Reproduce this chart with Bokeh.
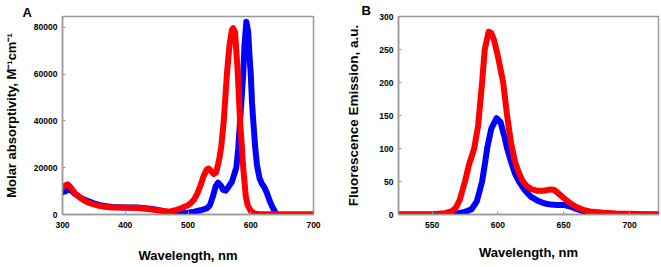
from bokeh.plotting import figure
from bokeh.layouts import row
from bokeh.models import FixedTicker, Range1d
from bokeh.embed import file_html
from bokeh.resources import INLINE

# Panel A: absorption spectra
abs_blue_wl = [300, 305, 310, 315, 320, 330, 340, 350, 360, 370, 380, 400, 420, 440, 450, 460,
               470, 480, 490, 500, 510, 520, 525, 530, 535, 540, 544, 548, 552, 556, 560, 565,
               570, 574, 577, 580, 583, 586, 588, 590, 593, 596, 598, 600, 602, 604, 607, 610,
               614, 618, 622, 626, 630, 634, 638, 640]
abs_blue = [9500, 10000, 10800, 10000, 8800, 7000, 5800, 4800, 4000, 3500, 3200, 3000, 3000, 2500, 2000, 1500,
            900, 700, 600, 800, 1200, 1800, 2200, 2600, 4000, 8000, 12000, 13600, 12500, 10500, 10200, 12000,
            14000, 17500, 20000, 28000, 40000, 52000, 60000, 72000, 82400, 78000, 68000, 60000, 48000, 40000, 29000, 21000,
            15500, 13000, 11500, 9000, 6000, 3500, 1500, 500]

abs_red_wl = [300, 305, 308, 312, 316, 320, 330, 340, 350, 360, 370, 380, 400, 420, 440, 460,
              470, 480, 490, 500, 505, 510, 515, 520, 525, 530, 533, 537, 541, 545, 550, 553,
              557, 562, 566, 570, 572, 575, 579, 583, 588, 592, 595, 600, 605, 610, 615, 620,
              650, 700]
abs_red = [11500, 12500, 12900, 12000, 10500, 9000, 6800, 5200, 4300, 3600, 3200, 3000, 3000, 2800, 2200, 1500,
           1200, 1800, 2800, 4000, 5000, 6500, 9000, 12500, 16500, 19300, 19600, 18500, 17300, 18000, 24000, 29000,
           40000, 60000, 72000, 79000, 79600, 78000, 62000, 40000, 20000, 8000, 4000, 1500, 600, 200, 100, 100,
           100, 100]

abs_xticks = [300, 400, 500, 600, 700]
abs_yticks = [0, 20000, 40000, 60000, 80000]

# Panel B: fluorescence emission spectra
em_blue_wl = [525, 550, 560, 565, 570, 575, 580, 584, 586, 588, 590, 592, 595, 599, 602, 605,
              607, 610, 613, 616, 620, 625, 630, 635, 640, 645, 650, 655, 660, 665, 670, 680,
              690, 700, 710, 722]
em_blue = [0, 0, 0.5, 1, 2, 4, 8, 20, 35, 50, 75, 102, 130, 146, 140, 118,
           100, 80, 62, 50, 38, 27, 21, 17, 15, 14.5, 14.5, 12, 8, 5, 3, 1.5,
           0.5, 0, 0, 0]

em_red_wl = [525, 550, 560, 565, 568, 571, 575, 578, 582, 585, 588, 590, 593, 595, 597, 600,
             604, 607, 610, 613, 616, 619, 622, 626, 630, 635, 640, 643, 646, 650, 655, 660,
             665, 670, 680, 690, 700, 710, 722]
em_red = [0, 0.5, 2, 5, 10, 22, 50, 75, 100, 135, 200, 250, 277, 275, 265, 240,
          200, 150, 108, 80, 63, 50, 43, 38, 36, 36, 38, 37, 32, 25, 17, 11,
          7, 4.5, 2.5, 1.5, 1, 0.5, 0]

em_xticks = [550, 600, 650, 700]
em_yticks = [0, 50, 100, 150, 200, 250, 300]

FONT = "Liberation Sans"
GRAY = "#9a9a9a"
BLUE = "#0000ff"
RED = "#ff0000"


def style(p, letter, offset, standoff):
    p.outline_line_color = GRAY
    p.outline_line_width = 1.5
    p.xgrid.visible = False
    p.ygrid.visible = False
    p.title.text = letter
    p.title.align = "left"
    p.title.offset = offset
    p.title.standoff = standoff
    p.title.text_font = FONT
    p.title.text_font_style = "bold"
    p.title.text_font_size = "13px"
    p.title.text_color = "black"
    p.title.text_line_height = 0.9
    for ax in (p.xaxis, p.yaxis):
        ax.axis_line_color = GRAY
        ax.axis_line_width = 1.5
        ax.major_tick_line_color = GRAY
        ax.major_tick_in = 3
        ax.major_tick_out = 0
        ax.minor_tick_line_color = None
        ax.major_label_text_font = FONT
        ax.major_label_text_font_style = "bold"
        ax.major_label_text_font_size = "8.5px"
        ax.major_label_text_color = "black"
        ax.axis_label_text_font = FONT
        ax.axis_label_text_font_style = "bold"
        ax.axis_label_text_font_size = "13px"
        ax.axis_label_text_color = "black"


pa = figure(width=330, height=267, output_backend="svg", toolbar_location=None,
            x_range=Range1d(300, 700), y_range=Range1d(0, 84630),
            min_border_left=55, min_border_right=17, min_border_top=13, min_border_bottom=53)
style(pa, "A", -40, -7)
pa.xaxis.ticker = FixedTicker(ticks=abs_xticks)
pa.yaxis.ticker = FixedTicker(ticks=abs_yticks)
pa.xaxis.axis_label = "Wavelength, nm"
pa.yaxis.axis_label = "Molar absorptivity, M\u207b\u00b9cm\u207b\u00b9"
pa.xaxis.major_label_standoff = 7
pa.xaxis.axis_label_standoff = 17
pa.yaxis.major_label_standoff = 5
pa.yaxis.axis_label_standoff = 12
pa.line(abs_blue_wl, abs_blue, line_color=BLUE, line_width=6, line_join="round", line_cap="round")
pa.line(abs_red_wl, abs_red, line_color=RED, line_width=6, line_join="round", line_cap="round")

pb = figure(width=331, height=267, output_backend="svg", toolbar_location=None,
            x_range=Range1d(524.5, 722), y_range=Range1d(0, 300),
            min_border_left=68, min_border_right=3, min_border_top=16, min_border_bottom=48)
style(pb, "B", -37, -2)
pb.xaxis.ticker = FixedTicker(ticks=em_xticks)
pb.yaxis.ticker = FixedTicker(ticks=em_yticks)
pb.xaxis.axis_label = "Wavelength, nm"
pb.yaxis.axis_label = "Fluorescence Emission, a.u."
pb.yaxis.axis_label_text_font_size = "13.5px"
pb.xaxis.major_label_standoff = 7
pb.xaxis.axis_label_standoff = 14
pb.yaxis.major_label_standoff = 5
pb.yaxis.axis_label_standoff = 15
pb.line(em_blue_wl, em_blue, line_color=BLUE, line_width=6, line_join="round", line_cap="round")
pb.line(em_red_wl, em_red, line_color=RED, line_width=6, line_join="round", line_cap="round")

layout = row(pa, pb)
open("out.html", "w").write(file_html(layout, INLINE))
